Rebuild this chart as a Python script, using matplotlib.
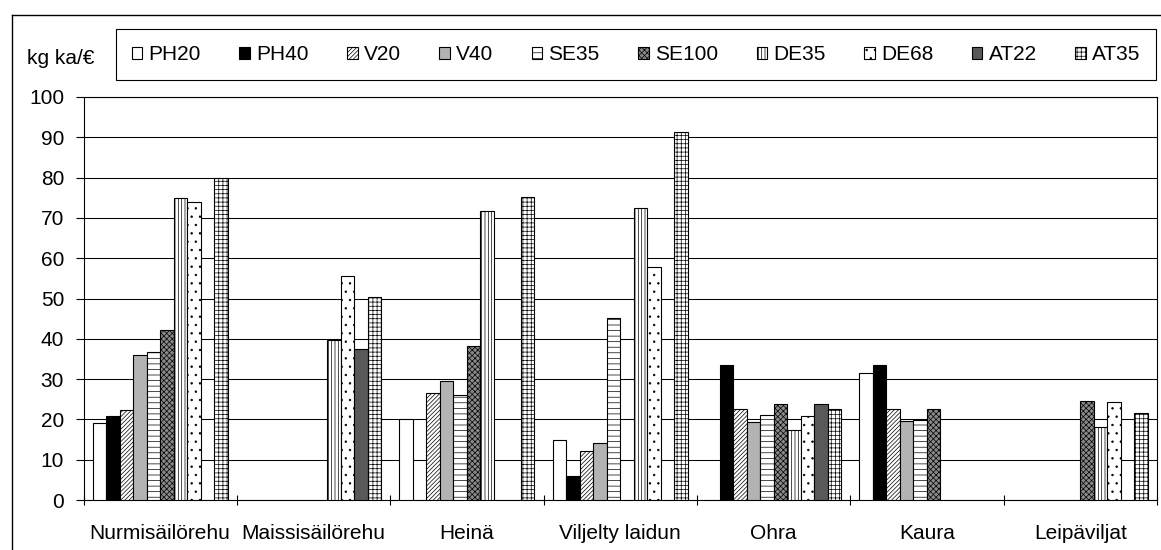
import numpy as np
import matplotlib
matplotlib.use("Agg")
import matplotlib.pyplot as plt
from matplotlib.lines import Line2D
from matplotlib.patches import Rectangle

plt.rcParams['font.family'] = ['Liberation Sans', 'DejaVu Sans']
plt.rcParams['hatch.linewidth'] = 0.5

categories = ['Nurmisäilörehu', 'Maissisäilörehu', 'Heinä', 'Viljelty laidun',
              'Ohra', 'Kaura', 'Leipäviljat']
series = ['PH20', 'PH40', 'V20', 'V40', 'SE35', 'SE100', 'DE35', 'DE68', 'AT22', 'AT35']
nan = np.nan

# kg ka/€ per feed, one list per series (nan = no value)
ph20 = [19.0, nan, 20.0, 15.0, nan, 31.4, nan]
ph40 = [20.8, nan, nan, 6.0, 33.4, 33.4, nan]
v20 = [22.3, nan, 26.5, 12.2, 22.6, 22.7, nan]
v40 = [35.9, nan, 29.5, 14.1, 19.4, 19.6, nan]
se35 = [36.8, nan, 26.1, 45.1, 21.1, 19.9, nan]
se100 = [42.2, nan, 38.3, nan, 23.9, 22.7, 24.6]
de35 = [75.0, 39.8, 71.8, 72.5, 17.4, nan, 18.2]
de68 = [73.9, 55.7, nan, 57.7, 20.8, nan, 24.4]
at22 = [nan, 37.4, nan, nan, 23.7, nan, nan]
at35 = [80.0, 50.4, 75.1, 91.4, 22.6, nan, 21.5]
values = [ph20, ph40, v20, v40, se35, se100, de35, de68, at22, at35]

# fill colour and hatch for each series
styles = [
    ('white', None),
    ('black', None),
    ('white', '////////'),
    ('#b3b3b3', None),
    ('white', '---'),
    ('#8a8a8a', 'xxxxxx'),
    ('white', '|||||'),
    ('white', '..'),
    ('#595959', None),
    ('white', '++++'),
]

fig = plt.figure(figsize=(11.61, 5.5), dpi=100)
ax = fig.add_axes([83.5 / 1161, 50 / 550, (1157 - 83.5) / 1161, (500 - 97) / 550])
ax.set_axisbelow(True)

x = np.arange(len(categories))
width = 0.088
handles = []
for i, (name, vals) in enumerate(zip(series, values)):
    fc, hatch = styles[i]
    b = ax.bar(x + (i - 4.5) * width, vals, width, color=fc, hatch=hatch,
               edgecolor='black', linewidth=0.8, label=name, zorder=3)
    handles.append(b)

ax.set_xlim(-0.5, len(categories) - 0.5)
ax.set_ylim(0, 100)
ax.set_yticks(np.arange(0, 101, 10))
ax.yaxis.grid(True, color='black', linewidth=0.75)
ax.tick_params(axis='y', labelsize=15, length=6, width=0.8, pad=8)

ax.set_xticks(x)
ax.set_xticklabels(categories, fontsize=15)
ax.tick_params(axis='x', which='major', length=0, pad=17)
ax.set_xticks(np.arange(-0.5, len(categories)), minor=True)
ax.tick_params(axis='x', which='minor', direction='inout', length=7, width=0.8)

for s in ax.spines.values():
    s.set_linewidth(0.8)
    s.set_color('black')

# outer chart border (left and top edges)
fig.add_artist(Line2D([12 / 1161, 12 / 1161], [0, 1 - 15 / 550],
                      transform=fig.transFigure, color='black', linewidth=1))
fig.add_artist(Line2D([12 / 1161, 1], [1 - 15 / 550, 1 - 15 / 550],
                      transform=fig.transFigure, color='black', linewidth=1))

# legend box
fig.add_artist(Rectangle((116 / 1161, 1 - 80 / 550), (1156 - 116) / 1161, 51 / 550,
                         transform=fig.transFigure, fill=False,
                         edgecolor='black', linewidth=0.8))
fig.legend(handles=handles, labels=series, ncol=10, loc='center',
           bbox_to_anchor=(636 / 1161, 1 - 54.5 / 550), frameon=False,
           fontsize=15, handlelength=0.5, handleheight=0.5,
           handletextpad=0.3, columnspacing=1.85, borderpad=0)

fig.text(27 / 1161, 1 - 59 / 550, 'kg ka/€', fontsize=15, va='center', ha='left')

fig.savefig('out.png', dpi=100)
